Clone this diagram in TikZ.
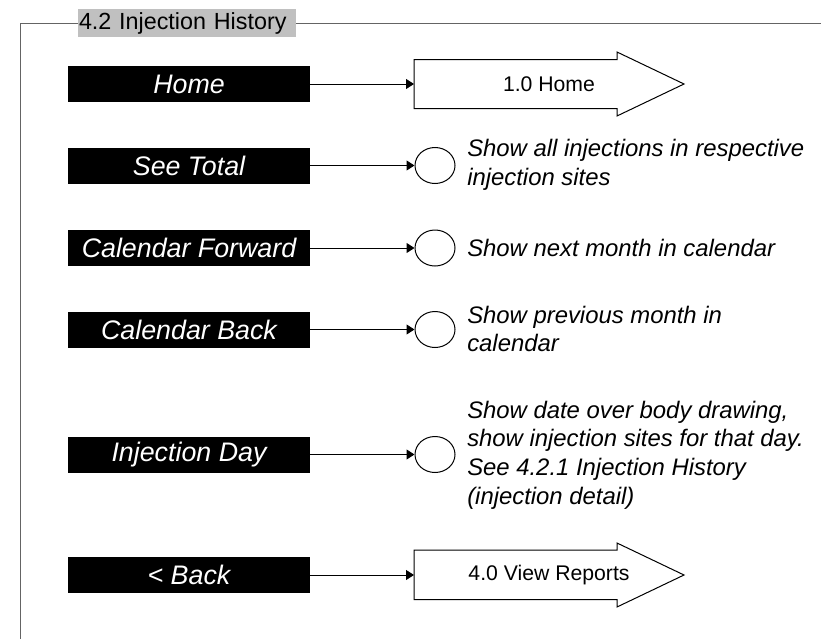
\documentclass[tikz,border=0pt]{standalone}
\usepackage{fontspec}
\setmainfont{Liberation Sans}
\usetikzlibrary{arrows.meta,shapes.geometric}
\definecolor{framegray}{RGB}{100,100,100}
\definecolor{titlegray}{RGB}{192,192,192}
\tikzset{
  btnbox/.style={fill=black, text=white, minimum width=181.5pt, minimum height=27pt, inner sep=0pt,
    font=\fontsize{20.1}{24}\selectfont\itshape},
  evcircle/.style={ellipse, draw=black, line width=0.75pt, minimum width=30pt, minimum height=27pt, inner sep=0pt},
  desc/.style={anchor=west, align=left, inner sep=0pt, font=\fontsize{17.9}{21.5}\selectfont\itshape},
  conn/.style={draw=black, line width=0.75pt, -{Triangle[length=6pt,width=7.5pt]}},
  navshape/.style={draw=black, line width=0.75pt, fill=white, line join=miter},
  navtext/.style={inner sep=0pt, font=\fontsize{15.9}{19}\selectfont},
  framel/.style={draw=framegray, line width=0.75pt}
}
\begin{document}
\begin{tikzpicture}[x=0.75pt,y=-0.75pt]
\useasboundingbox (0,0) rectangle (821,639);

% title and frame
\node[fill=titlegray, text width=162pt, align=left, minimum height=21pt, inner xsep=0.75pt, inner ysep=0pt,
  font=\fontsize{17.5}{20}\selectfont] (title) at (187,23) {4.2 Injection History};
\draw[framel] (title.west) -- (20,23) -- (20,639);
\draw[framel] (title.east) -- (821,23);

% buttons
\node[btnbox] (bHome) at (189,84) {Home};
\node[btnbox] (bTotal) at (189,165.5) {See Total};
\node[btnbox] (bFwd) at (189,248) {Calendar Forward};
\node[btnbox] (bBack) at (189,329.5) {Calendar Back};
\node[btnbox] (bDay) at (189,454.5) {Injection Day};
\node[btnbox] (bRet) at (189,575) {{<} Back};

% navigation arrows
\draw[navshape] (414,59.5) -- (617,59.5) -- (617,52) -- (684,84) -- (617,116) -- (617,108.5) -- (414,108.5) -- cycle;
\coordinate (homeIn) at (414,84);
\node[navtext] (homeT) at (549,84) {1.0 Home};

\draw[navshape] (414,550) -- (617,550) -- (617,543) -- (684,575) -- (617,607) -- (617,599.5) -- (414,599.5) -- cycle;
\coordinate (retIn) at (414,575);
\node[navtext] (retT) at (549,575) {4.0 View Reports};

% circles
\node[evcircle] (cTotal) at (435,165.5) {};
\node[evcircle] (cFwd) at (435,248) {};
\node[evcircle] (cBack) at (435,329.5) {};
\node[evcircle] (cDay) at (435,454.5) {};

% connectors
\draw[conn] (bHome.east) -- (homeIn);
\draw[conn] (bTotal.east) -- (cTotal.west);
\draw[conn] (bFwd.east) -- (cFwd.west);
\draw[conn] (bBack.east) -- (cBack.west);
\draw[conn] (bDay.east) -- (cDay.west);
\draw[conn] (bRet.east) -- (retIn);

% descriptions
\node[desc] (dTotal) at (467,165) {Show all injections in respective\\injection sites};
\node[desc] (dFwd) at (467,248) {Show next month in calendar};
\node[desc] (dBack) at (467,329) {Show previous month in\\calendar};
\node[desc] (dDay) at (467,455) {Show date over body drawing,\\show injection sites for that day.\\See 4.2.1 Injection History\\(injection detail)};
\end{tikzpicture}
\end{document}
